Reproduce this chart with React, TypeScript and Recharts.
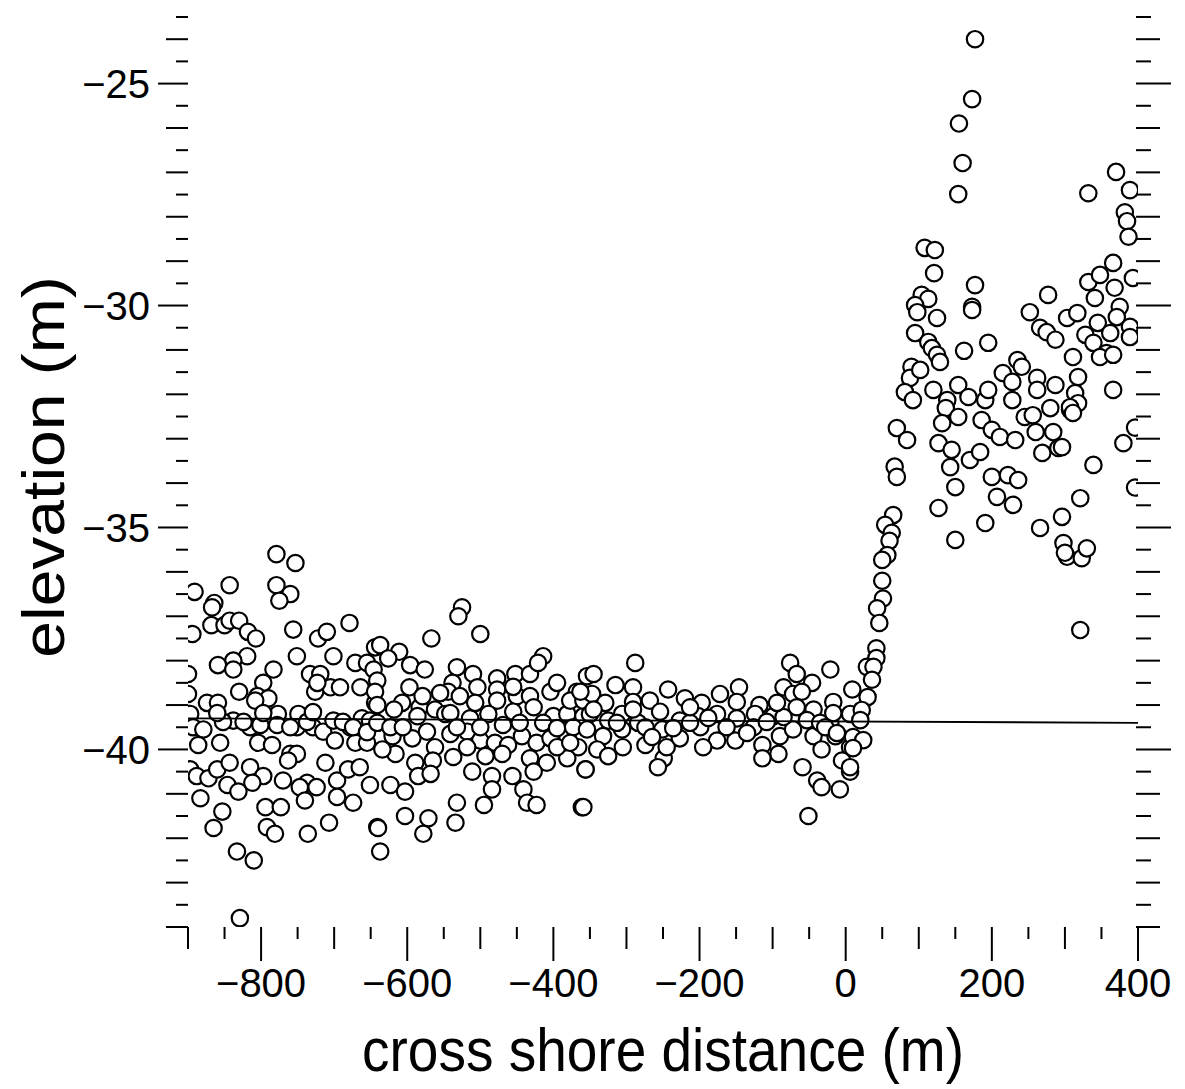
import React from "react";
import { ScatterChart, Scatter, XAxis, YAxis } from "recharts";

// cross shore distance (m), elevation (m)
const westCloud: [number, number][] = [
  [-779, -35.6], [-753, -35.8], [-891, -36.45], [-843, -36.3], [-779, -36.3], [-760, -36.5],
  [-775, -36.65], [-864, -36.7], [-867, -36.8], [-894, -37.4], [-868, -37.2], [-850, -37.2],
  [-843, -37.1], [-830, -37.1], [-818, -37.35], [-807, -37.5], [-756, -37.3], [-679, -37.15],
  [-722, -37.5], [-710, -37.35], [-751, -37.9], [-701, -37.9], [-819, -37.9], [-838, -38.0],
  [-859, -38.1], [-838, -38.2], [-783, -38.2], [-900, -38.3], [-733, -38.3], [-719, -38.3],
  [-671, -38.05], [-655, -38.05], [-644, -37.7], [-830, -38.7], [-797, -38.5], [-805, -38.8],
  [-790, -38.85], [-808, -38.9], [-874, -38.95], [-859, -38.95], [-726, -38.7], [-705, -38.6],
  [-692, -38.6], [-664, -38.6], [-644, -38.95], [-900, -38.75], [-897, -39.2], [-838, -39.35],
  [-815, -39.5], [-801, -39.45], [-777, -39.2], [-778, -39.45], [-749, -39.2], [-751, -39.5],
  [-729, -39.5], [-715, -39.6], [-701, -39.35], [-678, -39.5], [-662, -39.3], [-651, -39.35],
  [-893, -39.5], [-879, -39.55], [-886, -39.9], [-856, -39.85], [-804, -39.85], [-785, -39.9],
  [-760, -40.1], [-751, -40.1], [-763, -40.25], [-699, -39.8], [-712, -40.3], [-671, -39.85],
  [-655, -39.85], [-897, -40.45], [-888, -40.6], [-872, -40.65], [-860, -40.45], [-843, -40.3],
  [-846, -40.8], [-831, -40.95], [-815, -40.4], [-797, -40.6], [-812, -40.75], [-770, -40.7],
  [-737, -40.75], [-747, -40.85], [-724, -40.85], [-696, -40.7], [-681, -40.45], [-665, -40.4],
  [-651, -40.8], [-696, -41.07], [-674, -41.2], [-740, -41.15], [-883, -41.1], [-853, -41.4],
  [-794, -41.3], [-773, -41.3], [-865, -41.77], [-792, -41.75], [-781, -41.9], [-736, -41.9],
  [-707, -41.65], [-641, -41.75], [-637, -42.3], [-833, -42.3], [-810, -42.5], [-829, -43.8],
  [-852, -39.38], [-824, -39.38], [-760, -39.5], [-737, -39.38], [-688, -39.38], [-674, -39.5],
  [-655, -39.61], [-860, -39.18], [-797, -39.18], [-729, -39.16], [-723, -38.5],
];

const centralCloud: [number, number][] = [
  [-525, -36.8], [-530, -37.0], [-567, -37.5], [-500, -37.4], [-637, -37.65], [-611, -37.8],
  [-626, -37.95], [-596, -38.1], [-576, -38.2], [-646, -38.2], [-597, -38.6], [-532, -38.15],
  [-510, -38.3], [-477, -38.4], [-452, -38.3], [-432, -38.3], [-414, -37.9], [-421, -38.05],
  [-538, -38.5], [-544, -38.7], [-528, -38.8], [-504, -38.6], [-477, -38.65], [-450, -38.8],
  [-477, -38.9], [-432, -38.8], [-404, -38.7], [-395, -38.5], [-368, -38.7], [-354, -38.35],
  [-641, -38.45], [-644, -38.7], [-641, -39.0], [-607, -38.95], [-583, -39.05], [-562, -39.1],
  [-548, -39.2], [-586, -39.25], [-514, -39.3], [-489, -39.2], [-507, -38.95], [-455, -39.15],
  [-427, -39.05], [-400, -39.25], [-381, -39.2], [-359, -39.25], [-641, -39.4], [-620, -39.7],
  [-593, -39.75], [-616, -40.1], [-634, -40.0], [-562, -39.95], [-541, -39.65], [-518, -39.6],
  [-500, -39.8], [-480, -39.85], [-462, -39.9], [-443, -39.7], [-423, -39.85], [-404, -39.75],
  [-381, -39.7], [-366, -39.95], [-589, -40.3], [-565, -40.25], [-493, -40.15], [-470, -40.1],
  [-432, -40.2], [-409, -40.3], [-381, -40.2], [-356, -40.45], [-585, -40.6], [-568, -40.55],
  [-511, -40.5], [-484, -40.6], [-456, -40.6], [-427, -40.5], [-623, -40.8], [-603, -40.95],
  [-484, -40.9], [-441, -40.9], [-495, -41.25], [-436, -41.2], [-423, -41.25], [-532, -41.2],
  [-603, -41.5], [-571, -41.55], [-534, -41.65], [-640, -41.77], [-578, -41.9], [-361, -41.3],
  [-541, -39.18], [-532, -39.5], [-500, -39.5], [-469, -39.45], [-446, -39.4], [-414, -39.4],
  [-395, -39.52], [-373, -39.5], [-518, -39.95], [-537, -40.17], [-395, -39.95], [-377, -39.85],
  [-623, -39.5], [-606, -39.5], [-573, -39.6], [-618, -39.1], [-579, -38.8], [-555, -38.73],
  [-455, -38.59], [-377, -38.9], [-359, -38.9],
];

const nearshoreCloud: [number, number][] = [
  [-288, -38.05], [-345, -38.3], [-315, -38.55], [-291, -38.6], [-243, -38.65], [-347, -38.75],
  [-329, -38.95], [-291, -38.93], [-268, -38.9], [-220, -38.85], [-197, -38.95], [-172, -38.75],
  [-146, -38.6], [-149, -38.93], [-118, -39.0], [-76, -38.05], [-67, -38.3], [-46, -38.5],
  [-85, -38.6], [-72, -38.75], [-60, -38.7], [-21, -38.2], [9, -38.65], [-17, -38.93],
  [-363, -38.7], [-350, -39.2], [-325, -39.35], [-306, -39.2], [-284, -39.4], [-254, -39.15],
  [-227, -39.35], [-202, -39.25], [-176, -39.2], [-149, -39.3], [-124, -39.2], [-99, -39.25],
  [-67, -39.05], [-44, -39.1], [-21, -39.4], [6, -39.2], [-354, -39.55], [-332, -39.7],
  [-306, -39.55], [-274, -39.5], [-251, -39.55], [-227, -39.75], [-199, -39.5], [-176, -39.8],
  [-151, -39.8], [-126, -39.5], [-114, -39.9], [-92, -40.1], [-90, -39.7], [-72, -39.55],
  [-44, -39.7], [-14, -39.7], [6, -39.95], [-340, -40.0], [-325, -40.15], [-305, -39.95],
  [-274, -39.9], [-249, -40.2], [-257, -40.4], [-195, -39.95], [-114, -40.2], [-33, -40.0],
  [-5, -40.25], [-356, -40.45], [-59, -40.4], [-39, -40.7], [-33, -40.85], [6, -40.5],
  [-8, -40.9], [-359, -41.3], [-51, -41.5],
  [-313, -39.4], [-291, -39.1], [-265, -39.72], [-236, -39.52], [-213, -39.4], [-188, -39.29],
  [-163, -39.5], [-135, -39.63], [-108, -39.38], [-85, -39.27], [-53, -39.34], [-345, -39.1],
  [-245, -39.95], [-213, -39.05], [-94, -38.95], [-35, -39.4],
];

const slopePoints: [number, number][] = [
  [65, -34.72], [54, -34.94], [63, -35.12], [60, -35.3], [57, -35.62], [50, -35.73],
  [50, -36.2], [51, -36.6], [43, -36.82], [46, -37.15], [42, -37.72], [42, -37.94],
  [29, -38.14], [38, -38.14], [36, -38.43], [30, -38.82], [22, -39.11], [20, -39.34],
  [-17, -39.18], [-28, -39.5], [-12, -39.63], [10, -39.72], [24, -39.79], [10, -39.97],
  [6, -40.4], [67, -33.63], [70, -33.86], [70, -32.76], [84, -33.03],
];

const shelfPoints: [number, number][] = [
  [154, -27.49], [332, -27.47], [382, -27.9], [385, -28.1], [387, -28.45], [108, -28.7],
  [122, -28.75], [121, -29.27], [177, -29.54], [104, -29.76], [113, -29.85], [95, -29.99],
  [98, -30.15], [125, -30.28], [173, -30.03], [173, -30.1], [95, -30.62], [113, -30.82],
  [118, -30.96], [125, -31.11], [129, -31.27], [162, -31.02], [195, -30.84], [277, -29.76],
  [332, -29.47], [348, -29.31], [366, -29.04], [368, -29.6], [341, -29.83], [375, -30.03],
  [393, -29.38], [252, -30.15], [266, -30.5], [275, -30.6], [287, -30.77], [303, -30.28],
  [317, -30.17], [328, -30.66], [339, -30.84], [345, -30.39], [362, -30.62], [371, -30.26],
  [389, -30.48], [389, -30.71], [357, -31.07], [348, -31.16], [366, -31.11], [311, -31.16],
  [90, -31.38], [88, -31.63], [102, -31.45], [81, -31.95], [92, -32.13], [120, -31.9],
  [154, -31.79], [168, -32.06], [191, -32.13], [195, -31.9], [215, -31.52], [235, -31.23],
  [241, -31.38], [228, -31.72], [262, -31.63], [262, -31.9], [287, -31.79], [318, -31.61],
  [314, -31.97], [228, -32.13], [139, -32.13], [137, -32.31], [154, -32.51], [132, -32.65],
  [186, -32.58], [200, -32.8], [211, -32.96], [232, -33.03], [245, -32.51], [256, -32.47],
  [280, -32.31], [307, -32.35], [318, -32.2], [260, -32.85], [284, -32.85], [269, -33.32],
  [291, -33.21], [366, -31.9], [380, -33.1], [127, -33.1], [145, -33.25], [143, -33.64],
  [150, -34.09], [170, -33.48], [184, -33.3], [200, -33.86], [222, -33.82], [236, -33.93],
  [207, -34.31], [229, -34.49], [127, -34.56], [150, -35.28], [191, -34.9], [266, -35.01],
  [296, -34.76], [321, -34.34], [339, -33.59], [298, -35.35], [303, -35.66], [323, -35.69],
  [330, -35.47], [307, -32.29], [311, -32.42], [296, -33.19], [300, -35.57], [396, -32.75],
  [396, -34.1], [321, -37.31],
];

const shelfOutliers: [number, number][] = [
  [177, -24.0], [173, -25.35], [155, -25.9], [160, -26.79], [370, -26.99], [389, -27.4],
];

// straight line through the offshore level
const levelLine: [number, number][] = [[-900, -39.3], [400, -39.4]];

const xTicks = [
  -900, -850, -800, -750, -700, -650, -600, -550, -500, -450, -400, -350, -300, -250,
  -200, -150, -100, -50, 0, 50, 100, 150, 200, 250, 300, 350, 400,
];
const yTicks = [
  -44, -43.5, -43, -42.5, -42, -41.5, -41, -40.5, -40, -39.5, -39, -38.5, -38, -37.5,
  -37, -36.5, -36, -35.5, -35, -34.5, -34, -33.5, -33, -32.5, -32, -31.5, -31, -30.5,
  -30, -29.5, -29, -28.5, -28, -27.5, -27, -26.5, -26, -25.5, -25, -24.5, -24, -23.5,
];

const FONT = "'Liberation Sans', Arial, Helvetica, sans-serif";

const toRows = (pts: [number, number][]) => pts.map(([x, y]) => ({ x, y }));
const allPoints = [
  ...toRows(westCloud),
  ...toRows(centralCloud),
  ...toRows(nearshoreCloud),
  ...toRows(slopePoints),
  ...toRows(shelfPoints),
  ...toRows(shelfOutliers),
];
const levelRows = toRows(levelLine);

const fmt = (v: number) => (v < 0 ? "\u2212" + Math.abs(v) : String(v));

function XTick(props: any) {
  const { x, y, payload } = props;
  const v = payload.value;
  const len = v % 200 === 0 ? 34 : v % 100 === 0 ? 22 : 12;
  return (
    <g>
      <line x1={x} y1={y} x2={x} y2={y + len} stroke="#000" strokeWidth={2} />
      {v % 200 === 0 && (
        <text x={x} y={y + 70} textAnchor="middle" fontSize={40} fontFamily={FONT} fill="#000">
          {fmt(v)}
        </text>
      )}
    </g>
  );
}

function LeftTick(props: any) {
  const { x, y, payload } = props;
  const v = payload.value;
  const len = v % 5 === 0 ? 30 : v % 1 === 0 ? 22 : 12;
  return (
    <g>
      <line x1={x - len} y1={y} x2={x} y2={y} stroke="#000" strokeWidth={2} />
      {v % 5 === 0 && (
        <text x={x - 38} y={y} dy="0.36em" textAnchor="end" fontSize={40} fontFamily={FONT} fill="#000">
          {fmt(v)}
        </text>
      )}
    </g>
  );
}

function RightTick(props: any) {
  const { x, y, payload } = props;
  const v = payload.value;
  const len = v % 5 === 0 ? 35 : v % 1 === 0 ? 24 : 15;
  return <line x1={x - 2} y1={y} x2={x - 2 + len} y2={y} stroke="#000" strokeWidth={2} />;
}

const OpenCircle = (props: any) => (
  <circle cx={props.cx} cy={props.cy} r={8.2} fill="#fff" stroke="#000" strokeWidth={2.2} />
);

const NoMarker = () => <g />;

export default function App() {
  return (
    <div style={{ width: 1177, height: 1081 }}>
      <ScatterChart width={1177} height={1081} margin={{ top: 9, right: 0, bottom: 0, left: 0 }}>
        <XAxis
          type="number"
          dataKey="x"
          domain={[-900, 400]}
          ticks={xTicks}
          interval={0}
          allowDataOverflow
          height={162}
          axisLine={false}
          tickLine={false}
          tickSize={0}
          tickMargin={0}
          tick={<XTick />}
          label={{
            content: (p: any) => {
              const vb = p.viewBox;
              return (
                <text
                  transform={`translate(${vb.x + vb.width / 2}, ${vb.y + vb.height - 18}) scale(1, 1.1)`}
                  x={0}
                  y={0}
                  textAnchor="middle"
                  fontSize={55}
                  fontFamily={FONT}
                  fill="#000"
                >
                  cross shore distance (m)
                </text>
              );
            },
          }}
        />
        <YAxis
          yAxisId="left"
          type="number"
          dataKey="y"
          domain={[-44, -23.5]}
          ticks={yTicks}
          interval={0}
          allowDataOverflow
          width={180}
          axisLine={false}
          tickLine={false}
          tickSize={0}
          tickMargin={0}
          tick={<LeftTick />}
          label={{
            content: (p: any) => {
              const vb = p.viewBox;
              const cy = vb.y + vb.height / 2 - 5;
              return (
                <text
                  transform={`translate(56, ${cy}) rotate(-90) scale(1.1, 1)`}
                  x={0}
                  y={0}
                  textAnchor="middle"
                  fontSize={60}
                  fontFamily={FONT}
                  fill="#000"
                >
                  elevation (m)
                </text>
              );
            },
          }}
        />
        <YAxis
          yAxisId="right"
          orientation="right"
          type="number"
          domain={[-44, -23.5]}
          ticks={yTicks}
          interval={0}
          allowDataOverflow
          width={47}
          axisLine={false}
          tickLine={false}
          tickSize={0}
          tickMargin={0}
          tick={<RightTick />}
        />
        <Scatter
          yAxisId="left"
          data={allPoints}
          shape={OpenCircle}
          isAnimationActive={false}
        />
        <Scatter
          yAxisId="left"
          data={levelRows}
          line={{ stroke: "#000", strokeWidth: 1.8 }}
          shape={NoMarker}
          isAnimationActive={false}
        />
      </ScatterChart>
    </div>
  );
}
